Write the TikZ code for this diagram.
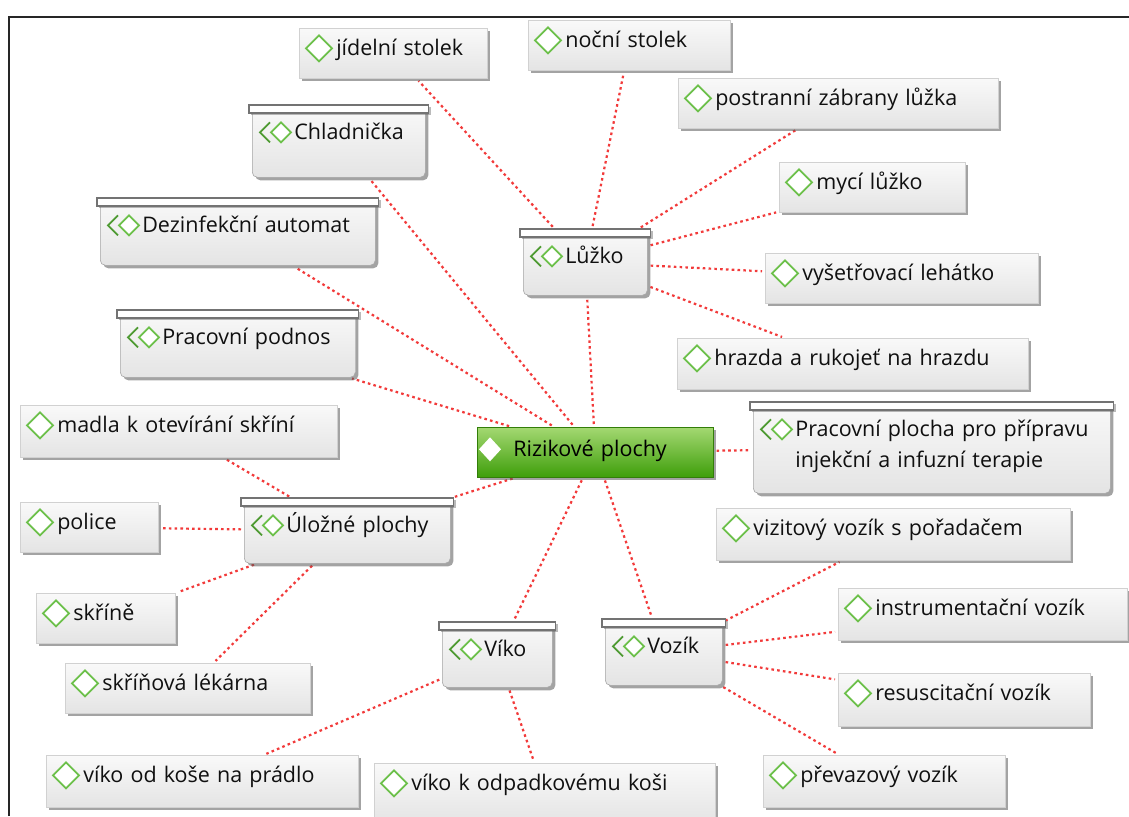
\documentclass[tikz,border=0pt]{standalone}
\usepackage{fontspec}
\setmainfont{Open Sans}
\usetikzlibrary{shadows,backgrounds}
\definecolor{txt}{HTML}{101010}
\definecolor{lgreen}{HTML}{6CC04A}
\definecolor{dgreen}{HTML}{4E9A32}
\definecolor{cred}{HTML}{F23A3A}
\definecolor{gtop}{HTML}{A4D872}
\definecolor{gbot}{HTML}{3E9E0A}
\definecolor{btop}{HTML}{F9F9F9}
\definecolor{bbot}{HTML}{E4E4E4}
\newcommand{\fs}{\fontsize{21.5}{31}\selectfont}
\newcommand{\lind}{\hspace*{37pt}}
\newcommand{\gind}{\hspace*{42pt}}
\begin{document}
\begin{tikzpicture}[x=1pt,y=-1pt,
  box/.style={inner sep=0pt, anchor=north west, align=left, font=\fs, text=txt,
    top color=btop, bottom color=bbot, draw=black!18, line width=0.6pt,
    drop shadow={shadow xshift=3pt,shadow yshift=-3pt,fill=black!65,opacity=.55}},
  leaf/.style 2 args={box, text width=#1, text height=27pt, text depth=#2},
  grp/.style 2 args={box, text width=#1, text height=34pt, text depth=#2, rounded corners=5pt, draw=black!35},
  root/.style={box, text width=236pt, text height=29pt, text depth=21pt,
    top color=gtop, bottom color=gbot, draw=gbot!80!black, text=black},
  tabst/.style={fill=white, draw=black!55, line width=1.2pt,
    drop shadow={shadow xshift=2pt,shadow yshift=-2pt,fill=black!60,opacity=.45}},
  leafic/.style={draw=lgreen, line width=1.8pt, fill=white},
  grpic/.style={draw=lgreen, line width=1.8pt, fill=white},
  chev/.style={draw=dgreen, line width=1.8pt},
  link/.style={draw=cred, line width=2.2pt, dash pattern=on 2.6pt off 3.2pt, shorten <=3pt, shorten >=3pt},
  frame/.style={draw=black!85, line width=1.5pt}
]
\useasboundingbox (0,0) rectangle (1129,816);

% central node
\node[root] (rt) at (477,427) {\hspace*{36pt}Rizikové plochy};

% group nodes
\node[grp={173pt}{38pt}] (chl) at (252,105) {\gind Chladnička};
\node[grp={275pt}{33pt}] (dez) at (100,198) {\gind Dezinfekční automat};
\node[grp={235pt}{33pt}] (pod) at (120,310) {\gind Pracovní podnos};
\node[grp={124pt}{32pt}] (luz) at (523,229) {\gind Lůžko};
\node[grp={357pt}{57pt}] (pra) at (753,402) {\gind Pracovní plocha pro přípravu\\\gind injekční a infuzní terapie};
\node[grp={206pt}{31pt}] (ulo) at (244,498) {\gind Úložné plochy};
\node[grp={110pt}{31pt}] (vik) at (442,622) {\gind Víko};
\node[grp={117pt}{32pt}] (voz) at (605,619) {\gind Vozík};

% leaf nodes
\node[leaf={188pt}{23pt}] (jid) at (299,28) {\lind jídelní stolek};
\node[leaf={202pt}{23pt}] (noc) at (528,20) {\lind noční stolek};
\node[leaf={320pt}{23pt}] (pos) at (678,78) {\lind postranní zábrany lůžka};
\node[leaf={186pt}{23pt}] (myc) at (779,162) {\lind mycí lůžko};
\node[leaf={273pt}{23pt}] (vys) at (765,253) {\lind vyšetřovací lehátko};
\node[leaf={351pt}{24pt}] (hra) at (677,338) {\lind hrazda a rukojeť na hrazdu};
\node[leaf={317pt}{25pt}] (mad) at (20,405) {\lind madla k otevírání skříní};
\node[leaf={138pt}{23pt}] (pol) at (20,502) {\lind police};
\node[leaf={139pt}{23pt}] (skr) at (36,593) {\lind skříně};
\node[leaf={245pt}{23pt}] (lek) at (65,663) {\lind skříňová lékárna};
\node[leaf={354pt}{25pt}] (viz) at (716,508) {\lind vizitový vozík s pořadačem};
\node[leaf={289pt}{25pt}] (ins) at (838,588) {\lind instrumentační vozík};
\node[leaf={252pt}{26pt}] (res) at (838,673) {\lind resuscitační vozík};
\node[leaf={242pt}{25pt}] (pre) at (763,755) {\lind převazový vozík};
\node[leaf={312pt}{25pt}] (vko) at (46,755) {\lind víko od koše na prádlo};
\node[leaf={341pt}{33pt}] (vkk) at (374,763) {\lind víko k odpadkovému koši};

% tabs of group nodes
\foreach \n in {chl,dez,pod,luz,pra,ulo,vik,voz}
  \draw[tabst] ([xshift=-3pt]\n.north west) rectangle ([xshift=3pt,yshift=-8pt]\n.north east);

% icons
\foreach \n in {jid,noc,pos,myc,vys,hra,mad,pol,skr,lek,viz,ins,res,pre,vko,vkk}
  \draw[leafic] ([xshift=20pt,yshift=7pt]\n.base west) +(0pt,13pt) -- +(13pt,0pt) -- +(0pt,-13pt) -- +(-13pt,0pt) -- cycle;
\foreach \n in {chl,dez,pod,luz,pra,ulo,vik,voz} {
  \draw[grpic] ([xshift=29pt,yshift=7pt]\n.base west) +(0pt,10pt) -- +(10pt,0pt) -- +(0pt,-10pt) -- +(-10pt,0pt) -- cycle;
  \draw[chev] ([xshift=18pt,yshift=7pt]\n.base west) +(0pt,10pt) -- +(-10pt,0pt) -- +(0pt,-10pt);
}
\fill[white] ([xshift=13pt,yshift=7pt]rt.base west) +(0pt,12pt) -- +(11pt,0pt) -- +(0pt,-12pt) -- +(-11pt,0pt) -- cycle;

% background, frame and connectors
\begin{pgfonlayer}{background}
\fill[white] (0,0) rectangle (1129,816);
\draw[frame] (9,816) -- (9,17) -- (1129,17);
\foreach \a/\b in {rt/chl,rt/dez,rt/pod,rt/luz,rt/pra,rt/ulo,rt/vik,rt/voz,
  luz/jid,luz/noc,luz/pos,luz/myc,luz/vys,luz/hra,
  ulo/mad,ulo/pol,ulo/skr,ulo/lek,
  vik/vko,vik/vkk,
  voz/viz,voz/ins,voz/res,voz/pre}
  \draw[link] (\a) -- (\b);
\end{pgfonlayer}
\end{tikzpicture}
\end{document}
